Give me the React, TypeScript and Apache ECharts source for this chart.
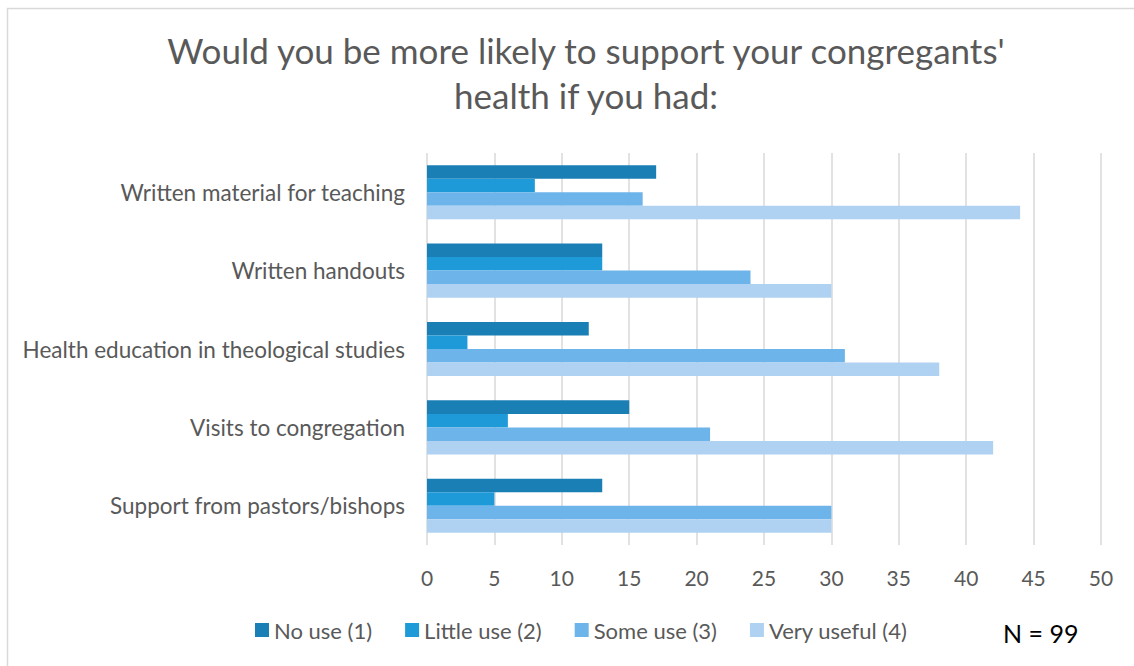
import React, { useEffect, useRef } from "react";
import * as echarts from "echarts";

const categories = [
  "Written material for teaching",
  "Written handouts",
  "Health education in theological studies",
  "Visits to congregation",
  "Support from pastors/bishops",
];
const seriesNames = ["No use (1)", "Little use (2)", "Some use (3)", "Very useful (4)"];
const noUse = [17, 13, 12, 15, 13];
const littleUse = [8, 13, 3, 6, 5];
const someUse = [16, 24, 31, 21, 30];
const veryUseful = [44, 30, 38, 42, 30];
const colors = ["#1a7fb5", "#1f9ad8", "#6db4ea", "#afd2f2"];
const titleText = "Would you be more likely to support your congregants'\nhealth if you had:";
const noteText = "N = 99";

const FONT = "Lato, 'Open Sans', sans-serif";

export default function App() {
  const ref = useRef<HTMLDivElement>(null);
  useEffect(() => {
    if (!ref.current) return;
    const chart = echarts.init(ref.current, undefined, { renderer: "svg" });
    const data = [noUse, littleUse, someUse, veryUseful];
    chart.setOption({
      animation: false,
      backgroundColor: "#ffffff",
      textStyle: { fontFamily: FONT },
      title: {
        text: titleText,
        left: 581,
        top: 22,
        textAlign: "center",
        textStyle: {
          fontFamily: FONT,
          fontSize: 35,
          fontWeight: "normal",
          color: "#595959",
          lineHeight: 45,
        },
      },
      legend: {
        bottom: 20,
        left: 250,
        itemWidth: 14,
        itemHeight: 14,
        itemGap: 33,
        icon: "rect",
        textStyle: { fontFamily: FONT, fontSize: 22, color: "#595959" },
        data: seriesNames,
      },
      grid: { left: 427, right: 33, top: 153, bottom: 121, containLabel: false },
      xAxis: {
        type: "value",
        min: 0,
        max: 50,
        interval: 5,
        axisLine: { show: false },
        axisTick: { show: false },
        axisLabel: { fontFamily: FONT, fontSize: 21, color: "#595959", margin: 22 },
        splitLine: { lineStyle: { color: "#d9d9d9", width: 1.5 } },
      },
      yAxis: {
        type: "category",
        inverse: true,
        data: categories,
        axisLine: { show: false },
        axisTick: { show: false },
        axisLabel: { fontFamily: FONT, fontSize: 22.5, color: "#595959", margin: 22 },
      },
      graphic: [
        {
          type: "polyline",
          shape: { points: [[7.5, 700], [7.5, 8.5], [1200, 8.5]] },
          style: { stroke: "#d9d9d9", lineWidth: 1.5, fill: "none" },
          silent: true,
        },
        {
          type: "text",
          left: 1003,
          top: 620,
          style: { text: noteText, fontFamily: FONT, fontSize: 25, fill: "#000000" },
        },
      ],
      series: seriesNames.map((name, i) => ({
        name,
        type: "bar",
        data: data[i],
        barGap: "0%",
        barCategoryGap: "31%",
        itemStyle: { color: colors[i] },
      })),
    });
    return () => chart.dispose();
  }, []);
  return (
    <div
      ref={ref}
      style={{ position: "absolute", left: 0, top: 0, width: 1134, height: 666 }}
    />
  );
}
